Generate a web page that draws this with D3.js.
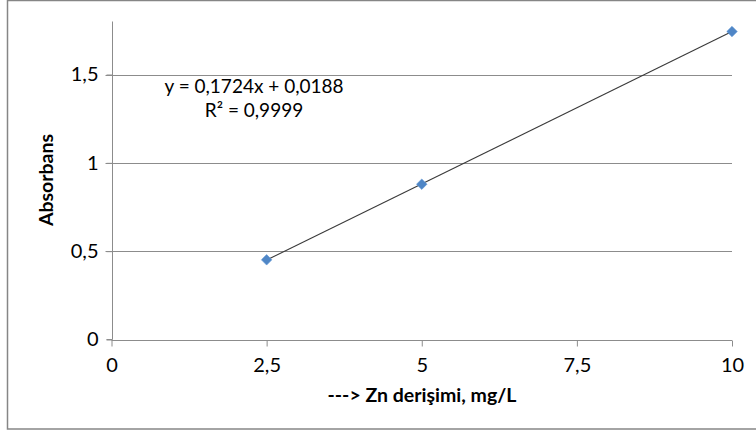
<!DOCTYPE html>
<html>
<head>
<meta charset="utf-8">
<script src="https://cdn.jsdelivr.net/npm/d3@7"></script>
<style>
  html, body { margin: 0; padding: 0; background: #fff; }
  svg { display: block; }
  text { font-family: Lato, "Open Sans", sans-serif; fill: #000; }
</style>
</head>
<body>
<svg id="chart" width="756" height="436"></svg>
<script>
// Zn calibration: concentration (mg/L) vs absorbance
const concentrations = [2.5, 5, 10];
const absorbances = [0.451, 0.879, 1.743];
const xTicks = [0, 2.5, 5, 7.5, 10];
const yTicks = [0, 0.5, 1, 1.5];
const trendSlope = 0.1724;
const trendIntercept = 0.0188;
const rSquared = 0.9999;

const svg = d3.select("#chart");

const fmt = v => String(v).replace(".", ",");

// outer chart border
svg.append("rect")
  .attr("x", 7.5).attr("y", 0.5)
  .attr("width", 760).attr("height", 428.5)
  .attr("fill", "none").attr("stroke", "#868686").attr("stroke-width", 1.5);

const x = d3.scaleLinear().domain([0, 10]).range([111.5, 732]);
const y = d3.scaleLinear().domain([0, 1.8]).range([339.5, 21.5]);

// horizontal gridlines
svg.append("g").selectAll("line").data(yTicks.filter(d => d > 0)).join("line")
  .attr("x1", x(0) - 6).attr("x2", x(10))
  .attr("y1", d => Math.round(y(d)) + 0.5).attr("y2", d => Math.round(y(d)) + 0.5)
  .attr("stroke", "#8c8c8c").attr("stroke-width", 1);

// y axis
const yAxis = d3.axisLeft(y).tickValues(yTicks).tickSize(6).tickPadding(8).tickFormat(fmt);
const gy = svg.append("g").attr("transform", `translate(${Math.round(x(0)) + 0.5},0)`).call(yAxis);
gy.select(".domain").attr("d", `M-6,${y(0)}H0V${y(1.8)}`).attr("stroke", "#8c8c8c");
gy.selectAll(".tick line").attr("stroke", "#8c8c8c");
gy.selectAll(".tick text").style("font-size", "20px").attr("font-family", null);

// x axis
const xAxis = d3.axisBottom(x).tickValues(xTicks).tickSize(6).tickPadding(11).tickFormat(fmt);
const gx = svg.append("g").attr("transform", `translate(0,${Math.round(y(0)) + 0.5})`).call(xAxis);
gx.select(".domain").attr("d", `M${x(0)},0H${x(10)}`).attr("stroke", "#8c8c8c");
gx.selectAll(".tick line").attr("stroke", "#8c8c8c");
gx.selectAll(".tick text").style("font-size", "20px").attr("font-family", null);

// linear trendline over the data range
const xr = d3.extent(concentrations);
svg.append("line")
  .attr("x1", x(xr[0])).attr("y1", y(trendSlope * xr[0] + trendIntercept))
  .attr("x2", x(xr[1])).attr("y2", y(trendSlope * xr[1] + trendIntercept))
  .attr("stroke", "#3a3a3a").attr("stroke-width", 1.1);

// data markers
svg.append("g").selectAll("path").data(concentrations).join("path")
  .attr("d", d3.symbol(d3.symbolDiamond2, 70))
  .attr("transform", (d, i) => `translate(${x(d)},${y(absorbances[i])})`)
  .attr("fill", "#4f86c6").attr("stroke", "#5b93d3").attr("stroke-width", 0.6);

// trendline equation
const eq = svg.append("text").attr("text-anchor", "middle").style("font-size", "19px");
eq.append("tspan").attr("x", 254).attr("y", 93)
  .text(`y = ${fmt(trendSlope)}x + ${fmt(trendIntercept)}`);
eq.append("tspan").attr("x", 254).attr("y", 117)
  .text("R² = " + fmt(rSquared));

// axis titles
svg.append("text").attr("x", 422).attr("y", 402).attr("text-anchor", "middle")
  .style("font-size", "19.5px").style("font-weight", "bold")
  .text("---> Zn derişimi, mg/L");
svg.append("text").attr("transform", "translate(53,180) rotate(-90)").attr("text-anchor", "middle")
  .style("font-size", "19.5px").style("font-weight", "bold")
  .text("Absorbans");
</script>
</body>
</html>
